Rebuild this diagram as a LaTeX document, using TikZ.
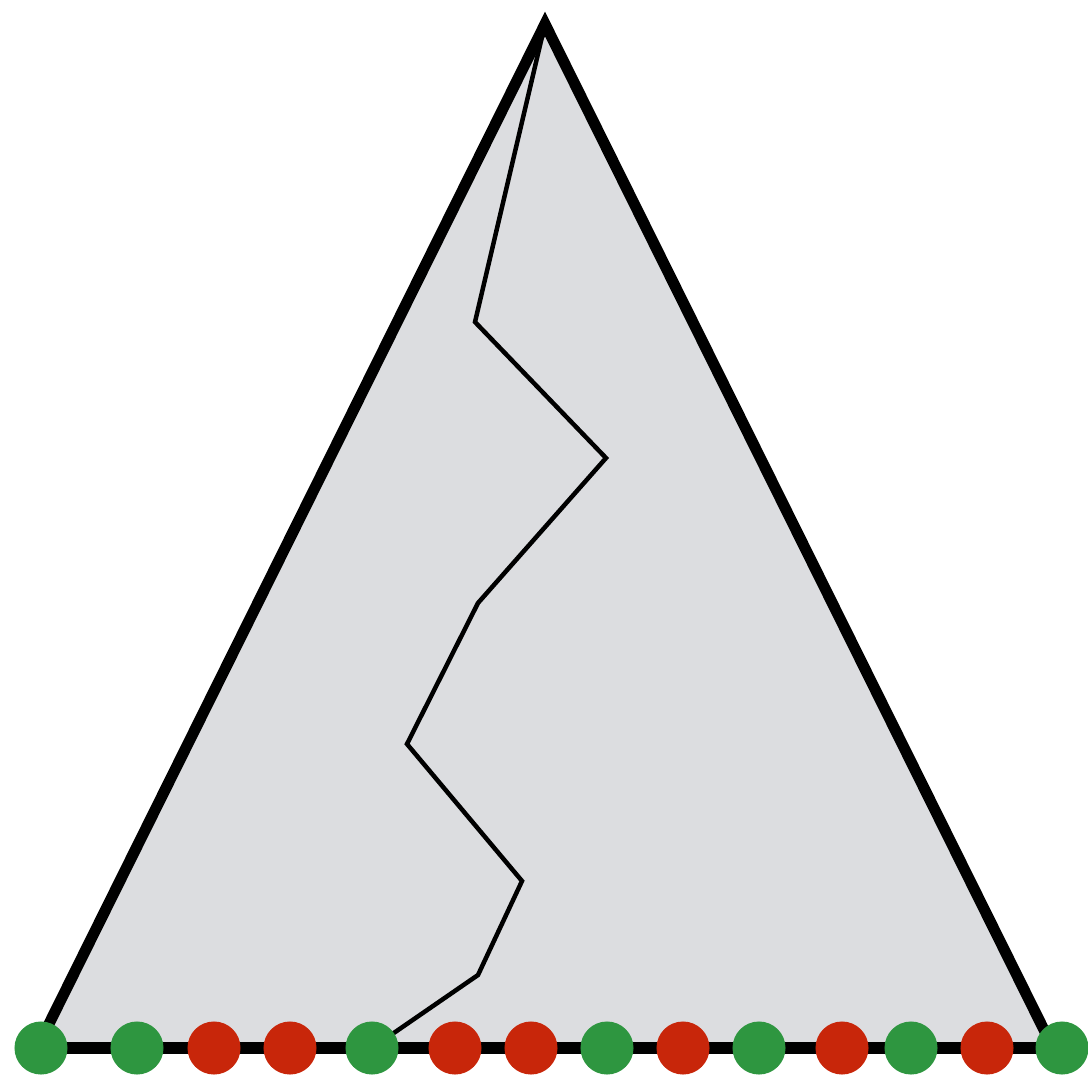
\documentclass[tikz,border=0pt]{standalone}
\definecolor{leafgreen}{RGB}{46, 150, 64}
\definecolor{leafred}{RGB}{200, 38, 10}
\definecolor{treegray}{RGB}{220, 221, 224}
\usepackage{tikz}
\usetikzlibrary{positioning, calc}
\tikzset{
  leaf/.style={circle, draw=none, minimum size=0.53cm, inner sep=0pt},
  goodleaf/.style={leaf, fill=leafgreen},
  badleaf/.style={leaf, fill=leafred},
  treeside/.style={line width=1.1mm, line join=miter},
  baseline/.style={line width=1.2mm},
  route/.style={line width=0.45mm, line join=miter},
}

\begin{document}
\begin{tikzpicture}[x=0.01cm, y=-0.01cm]
  \useasboundingbox (0,0) rectangle (1088,1076);
  % tree outline
  \coordinate (top) at (545,24);
  \coordinate (bl) at (38,1046);
  \coordinate (br) at (1052,1046);
  \fill[treegray] (bl) -- (top) -- (br) -- cycle;
  \draw[treeside] (bl) -- (top) -- (br);
  % leaves along the base
  \foreach \x/\c [count=\i] in {41/good, 137/good, 214/bad, 290/bad, 372/good, 455/bad, 531/bad,
                                 607/good, 683/bad, 759/good, 842/bad, 911/good, 987/bad, 1062/good}
    \coordinate (p\i) at (\x,1048);
  \draw[baseline] (p1) -- (p14);
  % search path
  \coordinate (s1) at (475,322);
  \coordinate (s2) at (606,458);
  \coordinate (s3) at (478,603);
  \coordinate (s4) at (407,744);
  \coordinate (s5) at (522,881);
  \coordinate (s6) at (478,975);
  \draw[route] (top) -- (s1) -- (s2) -- (s3) -- (s4) -- (s5) -- (s6) -- (p5);
  \foreach \x/\c [count=\i] in {41/good, 137/good, 214/bad, 290/bad, 372/good, 455/bad, 531/bad,
                                 607/good, 683/bad, 759/good, 842/bad, 911/good, 987/bad, 1062/good}
    \node[\c leaf] (d\i) at (p\i) {};
\end{tikzpicture}
\end{document}
